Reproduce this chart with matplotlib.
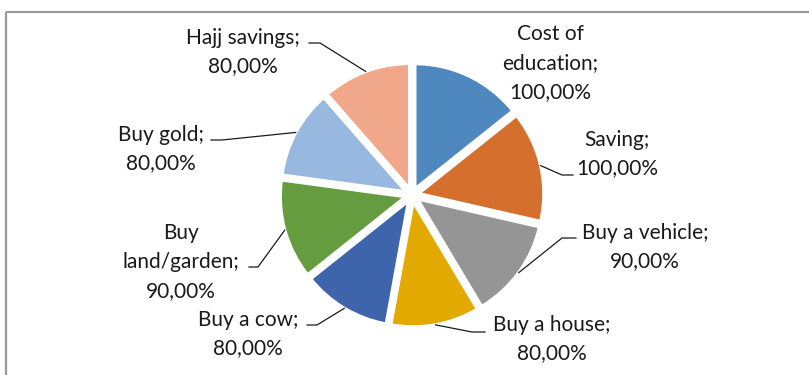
import numpy as np
import matplotlib
matplotlib.use("Agg")
import matplotlib.pyplot as plt

W, H = 809, 375

categories = ["Cost of education", "Saving", "Buy a vehicle", "Buy a house",
              "Buy a cow", "Buy land/garden", "Buy gold", "Hajj savings"]
values = [100, 100, 90, 80, 80, 90, 80, 80]
label_texts = ["Cost of\neducation;\n100,00%", "Saving;\n100,00%",
               "Buy a vehicle;\n90,00%", "Buy a house;\n80,00%",
               "Buy a cow;\n80,00%", "Buy\nland/garden;\n90,00%",
               "Buy gold;\n80,00%", "Hajj savings;\n80,00%"]
colors = ["#4F88BE", "#D56F2D", "#959595", "#E2AA00",
          "#3E64AC", "#649C3F", "#98B8DF", "#F0A78A"]

# layout in pixel space (y measured from the top edge)
center_px = (412, 195)
radius = 125.5
explode_px = 6.5
label_pos = [(550, 63), (617, 154), (645, 247), (552, 339),
             (248, 334), (181, 262), (161, 149), (243, 52)]
# leader lines: (elbow, end at label); None = no leader
leaders = [None, ((562, 175), (573, 175)), ((562, 238), (576, 238)),
           ((472, 332), (485, 332)), ((317, 325), (307, 325)),
           ((258, 267), (249, 267)), ((222, 140), (211, 140)),
           ((320, 43), (309, 43))]


def px(x, y):
    return x, H - y


fig = plt.figure(figsize=(W / 100, H / 100), dpi=100)
ax = fig.add_axes([0, 0, 1, 1])
ax.set_xlim(0, W)
ax.set_ylim(0, H)
ax.axis("off")

cx, cy = px(*center_px)
# matplotlib applies explode as an absolute offset in data units
wedges, _ = ax.pie(values, colors=colors, startangle=90, counterclock=False,
                   center=(cx, cy), radius=radius,
                   explode=[explode_px] * len(values),
                   wedgeprops=dict(linewidth=2.4, edgecolor="white"),
                   frame=False)
ax.set_xlim(0, W)
ax.set_ylim(0, H)
ax.set_aspect("equal")

# chart border (only top and left edges fall inside the canvas)
ax.plot([6, W + 5], [H - 11.5, H - 11.5], color="#9a9a9a", lw=1.6,
        solid_capstyle="butt")
ax.plot([6, 6], [H - 11.5, -5], color="#9a9a9a", lw=1.6,
        solid_capstyle="butt")

for w, txt, pos, ld in zip(wedges, label_texts, label_pos, leaders):
    ax.text(*px(*pos), txt, ha="center", va="center", fontsize=15,
            family="Lato", color="#1a1a1a", linespacing=1.55)
    if ld is None:
        continue
    mid = np.deg2rad((w.theta1 + w.theta2) / 2)
    wx, wy = w.center
    ax_pt = (wx + w.r * np.cos(mid), wy + w.r * np.sin(mid))
    (ex, ey), (tx, ty) = ld
    xs = [ax_pt[0], ex, tx]
    ys = [ax_pt[1], H - ey, H - ty]
    ax.plot(xs, ys, color="#1a1a1a", lw=0.9)

fig.savefig("out.png", dpi=100, facecolor="white")
